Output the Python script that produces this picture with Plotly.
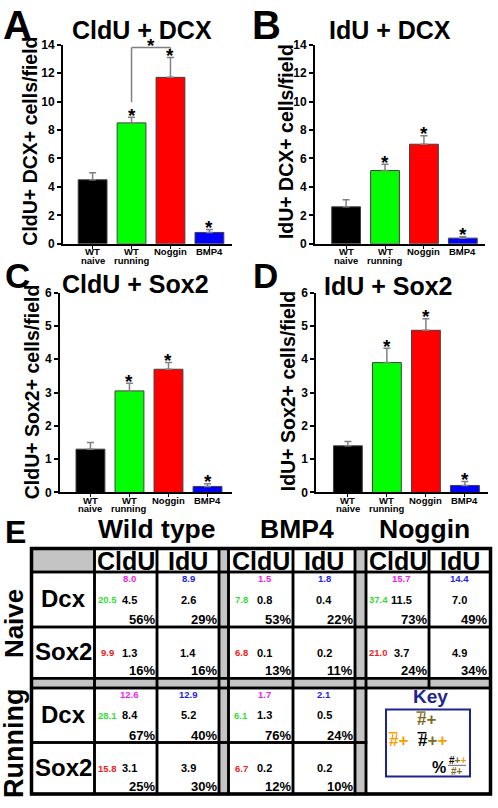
import plotly.graph_objects as go

W, H = 498, 808
FONT = "Liberation Sans, Arial, sans-serif"


def px(x):
    return x / W


def py(y):
    return 1 - y / H


# ---------------- data ----------------
categories = ["WT naive", "WT running", "Noggin", "BMP4"]
cat_line1 = ["WT", "WT", "Noggin", "BMP4"]
cat_line2 = ["naive", "running", "", ""]
bar_colors = ["#000000", "#00ff00", "#ff0000", "#0000ff"]

cldu_dcx = [4.5, 8.5, 11.7, 0.8]
cldu_dcx_err = [0.5, 0.4, 1.4, 0.2]
idu_dcx = [2.6, 5.15, 7.0, 0.4]
idu_dcx_err = [0.5, 0.45, 0.6, 0.1]
cldu_sox2 = [1.3, 3.05, 3.7, 0.18]
cldu_sox2_err = [0.2, 0.23, 0.2, 0.08]
idu_sox2 = [1.4, 3.9, 4.87, 0.21]
idu_sox2_err = [0.13, 0.43, 0.35, 0.12]
starred = [False, True, True, True]
bracket_top = 13.8  # running vs noggin comparison bracket (panel A)

groups = ["Wild type", "BMP4", "Noggin"]
conditions = ["Naive", "Running"]
markers = ["Dcx", "Sox2"]
# rows: Naive Dcx, Naive Sox2, Running Dcx, Running Sox2 ; columns: WT, BMP4, Noggin
tbl_cldu = [[4.5, 0.8, 11.5], [1.3, 0.1, 3.7], [8.4, 1.3, None], [3.1, 0.2, None]]
tbl_idu = [[2.6, 0.4, 7.0], [1.4, 0.2, 4.9], [5.2, 0.5, None], [3.9, 0.2, None]]
tbl_cldu_pct = [[56, 53, 73], [16, 13, 24], [67, 76, None], [25, 12, None]]
tbl_idu_pct = [[29, 22, 49], [16, 11, 34], [40, 24, None], [30, 10, None]]
tbl_cldu_total = [[8.0, 1.5, 15.7], [None, None, None], [12.6, 1.7, None], [None, None, None]]
tbl_idu_total = [[8.9, 1.8, 14.4], [None, None, None], [12.9, 2.1, None], [None, None, None]]
tbl_marker_total = [[20.5, 7.8, 37.4], [9.9, 6.8, 21.0], [28.1, 6.1, None], [15.8, 6.7, None]]

# ---------------- layout geometry ----------------
panels = [
    dict(letter="A", title="CldU + DCX", ytitle="CldU+ DCX+ cells/field", vals=cldu_dcx, errs=cldu_dcx_err,
         xd=(63, 232), xr=(-0.76, 3.58), ypx=(241, 38.3), ymax=14, dtick=2,
         letter_xy=(17, 18), letter_size=40, title_xy=(142, 23), ytitle_xy=(30, 137)),
    dict(letter="B", title="IdU + DCX", ytitle="IdU+ DCX+ cells/field", vals=idu_dcx, errs=idu_dcx_err,
         xd=(315, 485), xr=(-0.80, 3.57), ypx=(241, 38.3), ymax=14, dtick=2,
         letter_xy=(266, 18.5), letter_size=40, title_xy=(389.5, 23), ytitle_xy=(286, 137.5)),
    dict(letter="C", title="CldU + Sox2", ytitle="CldU+ Sox2+ cells/field", vals=cldu_sox2, errs=cldu_sox2_err,
         xd=(60, 231.7), xr=(-0.78, 3.62), ypx=(494, 290.7), ymax=6, dtick=1,
         letter_xy=(17, 273), letter_size=35, title_xy=(135, 281.5), ytitle_xy=(31.5, 391.5)),
    dict(letter="D", title="IdU + Sox2", ytitle="IdU+ Sox2+ cells/field", vals=idu_sox2, errs=idu_sox2_err,
         xd=(316.3, 488.3), xr=(-0.81, 3.6), ypx=(494, 290.7), ymax=6, dtick=1,
         letter_xy=(265, 273), letter_size=35, title_xy=(388, 283.5), ytitle_xy=(288, 391)),
]

fig = go.Figure()
anns = []
shapes = []


def A(x, y, text, size, color="black", bold=True, xanchor="center", yanchor="middle",
      angle=0, xref="paper", yref="paper", yshift=0):
    if xref == "paper":
        x = px(x)
    if yref == "paper":
        y = py(y)
    anns.append(dict(x=x, y=y, xref=xref, yref=yref, text=text, showarrow=False,
                     xanchor=xanchor, yanchor=yanchor, textangle=angle, yshift=yshift,
                     borderpad=0,
                     font=dict(family=FONT, size=size, color=color,
                               weight="bold" if bold else "normal")))


def rect(x0, y0, x1, y1, lw=2.5, fill=None, color="black"):
    shapes.append(dict(type="rect", xref="paper", yref="paper",
                       x0=px(x0), x1=px(x1), y0=py(y1), y1=py(y0),
                       line=dict(color=color, width=lw),
                       fillcolor=fill if fill else "rgba(0,0,0,0)", layer="above"))


def seg(x0, y0, x1, y1, lw, color, xref="paper", yref="paper"):
    if xref == "paper":
        x0, x1 = px(x0), px(x1)
    if yref == "paper":
        y0, y1 = py(y0), py(y1)
    shapes.append(dict(type="line", xref=xref, yref=yref, x0=x0, x1=x1, y0=y0, y1=y1,
                       line=dict(color=color, width=lw), layer="above"))


layout_axes = {}
for i, p in enumerate(panels):
    n = "" if i == 0 else str(i + 1)
    xa, ya = "x" + n, "y" + n
    fig.add_trace(go.Bar(
        x=list(range(len(categories))), y=p["vals"], xaxis=xa, yaxis=ya, width=0.74,
        marker=dict(color=bar_colors, line=dict(color="#404040", width=1)),
        error_y=dict(type="data", array=p["errs"], arrayminus=[0] * 4, symmetric=False,
                     color="#808080", thickness=1.5, width=3.5),
        showlegend=False, hoverinfo="skip", name=p["title"]))
    layout_axes["xaxis" + n] = dict(
        domain=[px(p["xd"][0]), px(p["xd"][1])], range=list(p["xr"]), anchor=ya,
        showline=True, linecolor="black", linewidth=2, ticks="outside", ticklen=3,
        tickwidth=1, tickcolor="black", tickvals=[0, 1, 2, 3], showticklabels=False,
        showgrid=False, zeroline=False)
    layout_axes["yaxis" + n] = dict(
        domain=[py(p["ypx"][0]), py(p["ypx"][1])], range=[0, p["ymax"]], anchor=xa,
        showline=True, linecolor="black", linewidth=2, ticks="outside", ticklen=4,
        tickwidth=1.5, tickcolor="black", dtick=p["dtick"],
        tickfont=dict(family=FONT, size=12, color="black", weight="bold"),
        showgrid=False, zeroline=False)
    # category labels
    for j in range(4):
        A(j, p["ypx"][0] + 8, cat_line1[j], 9.5, xref=xa)
        if cat_line2[j]:
            A(j, p["ypx"][0] + 16.5, cat_line2[j], 9.5, xref=xa)
        if starred[j]:
            A(j, p["vals"][j] + p["errs"][j], "*", 19, xref=xa, yref=ya, yshift=2)
    A(p["letter_xy"][0], p["letter_xy"][1], p["letter"], p["letter_size"])
    A(p["title_xy"][0], p["title_xy"][1], p["title"], 25)
    A(p["ytitle_xy"][0], p["ytitle_xy"][1], p["ytitle"], 19.5, angle=-90)

# significance bracket panel A (WT running vs Noggin)
bl = cldu_dcx[1] + cldu_dcx_err[1] + 1.05
br = cldu_dcx[2] + cldu_dcx_err[2] + 0.2
seg(1, bl, 1, bracket_top, 1.5, "#808080", "x", "y")
seg(1, bracket_top, 2, bracket_top, 1.5, "#808080", "x", "y")
seg(2, bracket_top, 2, br, 1.5, "#808080", "x", "y")
A(1.5, bracket_top, "*", 19, xref="x", yref="y", yshift=2)

# ---------------- table (panel E) ----------------
GRAY = "#c4c4c4"
label_col = (31.5, 94.5)
col_edges = [(94.5, 157), (157, 219), (219, 228.5), (228.5, 293), (293, 355), (355, 366),
             (366, 429), (429, 490.5)]
row_edges = [(551, 575), (575, 631), (631, 683), (683, 693), (693, 748.5), (748.5, 801)]
gap_cols = [2, 5]
gap_row = 3
all_cols = [label_col] + col_edges

# fills
rect(label_col[0], row_edges[0][0], label_col[1], row_edges[0][1], lw=0, fill=GRAY)
for c in gap_cols:
    rect(col_edges[c][0], row_edges[0][0], col_edges[c][1], row_edges[-1][1], lw=0, fill=GRAY)
rect(label_col[0], row_edges[gap_row][0], col_edges[-1][1], row_edges[gap_row][1], lw=0, fill=GRAY)

# grid lines
for r, (y0, y1) in enumerate(row_edges):
    for ci, (x0, x1) in enumerate(all_cols):
        if r >= 4 and ci >= 7:
            continue
        rect(x0, y0, x1, y1)
key_box = (col_edges[6][0], row_edges[4][0], col_edges[7][1], row_edges[5][1])
rect(*key_box)
rect(label_col[0], row_edges[0][0], col_edges[-1][1], row_edges[-1][1], lw=3.5)

# titles
A(16, 534, "E", 32)
for g, gx in zip(groups, [157, 297, 424]):
    A(gx, 531.5, g, 26.5)
group_cols = [(0, 1), (3, 4), (6, 7)]
for gc in group_cols:
    for k, lab in zip(gc, ["CldU", "IdU"]):
        x0, x1 = col_edges[k]
        A((x0 + x1) / 2, 564, lab, 25)

data_rows = [1, 2, 4, 5]
for ri, r in enumerate(data_rows):
    top, bot = row_edges[r]
    cy = (top + bot) / 2
    A((label_col[0] + label_col[1]) / 2 + 0.5, cy - 1, markers[ri % 2], 24)
    for g in range(3):
        if tbl_cldu[ri][g] is None:
            continue
        cl, cr = col_edges[group_cols[g][0]]
        il, ir = col_edges[group_cols[g][1]]
        cx = cl + 0.56 * (cr - cl)
        ix = (il + ir) / 2
        rpad = 2.5 if g == 2 else 1.5
        A(cx, cy, f"{tbl_cldu[ri][g]:.1f}", 11)
        A(ix, cy, f"{tbl_idu[ri][g]:.1f}", 11)
        A(cr - 1.5, bot - 7.5, f"{tbl_cldu_pct[ri][g]}%", 13, xanchor="right")
        A(ir - rpad, bot - 7.5, f"{tbl_idu_pct[ri][g]}%", 13, xanchor="right")
        if tbl_cldu_total[ri][g] is not None:
            A(cx, top + 7, f"{tbl_cldu_total[ri][g]:.1f}", 9.5, color="#ee22ee")
        if tbl_idu_total[ri][g] is not None:
            A(ix, top + 7, f"{tbl_idu_total[ri][g]:.1f}", 9.5, color="#2222ee")
        A(cl + 12.5, cy, f"{tbl_marker_total[ri][g]:.1f}", 9.5,
          color="#33dd33" if ri % 2 == 0 else "#ee2222")

A(14, 628, conditions[0], 26, angle=-90)
A(14, 750, conditions[1], 27, angle=-90)

# key
NAVY = "#1f2590"
OLIVE = "#7d6b1f"
ORANGE = "#f5a000"
A(430, 702, "Key", 19, color=NAVY)
rect(386, 715, 470, 783, lw=2, color=NAVY)


def sp(t, c):
    return f'<span style="color:{c}">{t}</span>'


A(426, 725, sp("#", OLIVE) + sp("+", OLIVE), 17)
seg(416.5, 717.5, 425.5, 717.5, 1.5, OLIVE)
A(398, 746, sp("#", ORANGE) + sp("+", ORANGE), 17)
seg(388.5, 738.5, 397.5, 738.5, 1.5, ORANGE)
A(432, 746, sp("#", "black") + sp("+", OLIVE) + sp("+", ORANGE), 17)
seg(417.5, 738.5, 426.5, 738.5, 1.5, "black")
A(439, 774, "%", 16)
A(457, 767, sp("#", "black") + sp("+", OLIVE) + sp("+", ORANGE), 10)
seg(448, 771.7, 466, 771.7, 1, "#666666")
A(457, 777.5, sp("#", OLIVE) + sp("+", OLIVE), 10)

fig.update_layout(
    width=W, height=H, margin=dict(l=0, r=0, t=0, b=0),
    paper_bgcolor="white", plot_bgcolor="white", showlegend=False,
    annotations=anns, shapes=shapes, **layout_axes)

fig.write_html("out.html", config={"displayModeBar": False},
               post_script="document.body.style.margin='0';document.body.style.overflow='hidden';")
